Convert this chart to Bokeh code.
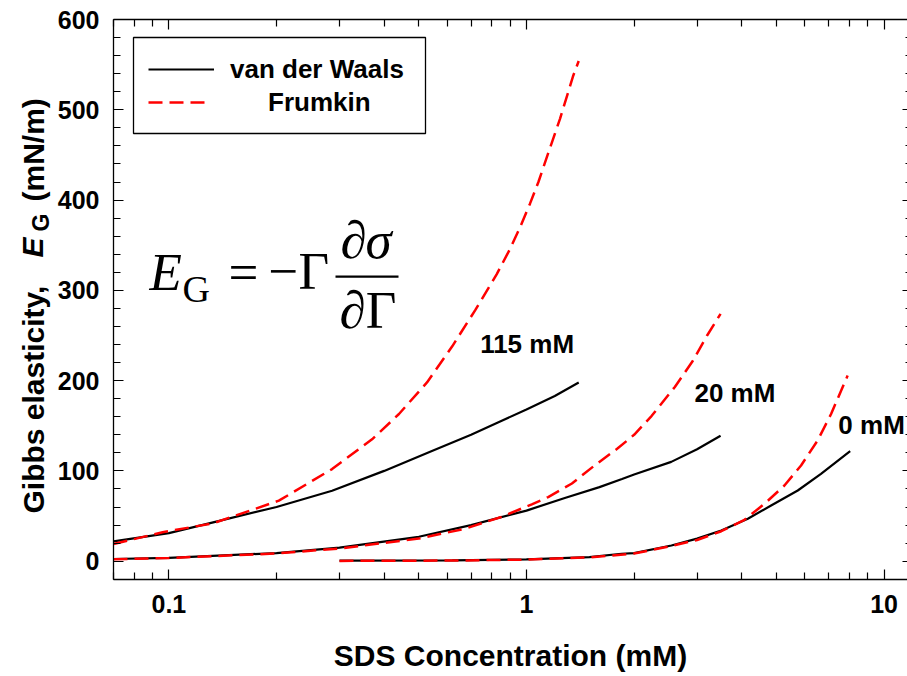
import math
from bokeh.plotting import figure
from bokeh.layouts import row
from bokeh.models import (LogAxis, LinearAxis, FixedTicker, Label, Legend, LegendItem,
                          BoxAnnotation, CustomJSTickFormatter, Range1d)
from bokeh.core.properties import value
from bokeh.embed import file_html
from bokeh.resources import INLINE

# ---------------- data ----------------
# 115 mM NaCl
conc_vdw_115 = [0.07, 0.1, 0.133, 0.2, 0.286, 0.4, 0.544, 0.7, 0.835, 1.0, 1.2, 1.4]
ge_vdw_115 = [22, 31, 43, 60, 78, 100, 122, 140, 154, 168, 183, 198]
conc_fr_115 = [0.07, 0.096, 0.133, 0.203, 0.286, 0.37, 0.44, 0.527, 0.62, 0.66, 0.719,
               0.826, 0.9, 0.96, 1.023, 1.08, 1.139, 1.241, 1.352, 1.4]
ge_fr_115 = [19, 32, 42, 67, 102, 135, 163, 198, 238, 255, 278,
             318, 346, 370, 396, 420, 447, 490, 538, 554]
# 20 mM NaCl
conc_vdw_20 = [0.07, 0.1, 0.2, 0.3, 0.5, 0.7, 1.0, 1.28, 1.6, 1.85, 2.0, 2.54, 3.0, 3.49]
ge_vdw_20 = [2.4, 3.7, 9, 15, 27, 40, 56, 70, 82, 91, 96, 110, 124, 139]
conc_fr_20 = [0.07, 0.1, 0.2, 0.3, 0.5, 0.674, 0.85, 1.035, 1.15, 1.34, 1.55, 1.8, 2.0,
              2.24, 2.6, 2.92, 3.2, 3.49]
ge_fr_20 = [2.2, 3.5, 8.5, 14, 25, 36, 49, 63, 71, 86, 106, 125, 140,
            161, 193, 222, 250, 274]
# 0 mM NaCl
conc_vdw_0 = [0.3, 0.62, 1.0, 1.5, 1.845, 2.0, 2.543, 3.0, 3.506, 4.16, 4.833, 5.737, 6.662, 8.04]
ge_vdw_0 = [0.5, 0.9, 1.9, 4.5, 8.2, 9, 17.4, 25, 34, 47, 61.7, 78.3, 96.8, 121.8]
conc_fr_0 = [0.3, 0.62, 1.0, 1.5, 2.0, 2.543, 3.0, 3.506, 4.07, 4.63, 5.265, 5.86, 6.52, 7.11, 7.91]
ge_fr_0 = [0.3, 0.7, 1.7, 4.2, 8.5, 16.8, 23.5, 33.2, 45.8, 63.5, 83.8, 106, 133.7, 163, 205.6]

curve_labels = ["115 mM", "20 mM", "0 mM"]
curve_label_conc = [0.742, 2.95, 7.45]
curve_label_ge = [241, 186, 151]

series_names = ["van der Waals", "Frumkin"]

x_major_ticks = [0.1, 1, 10]
x_minor_ticks = [0.07, 0.08, 0.09, 0.2, 0.3, 0.4, 0.5, 0.6, 0.7, 0.8, 0.9,
                 2, 3, 4, 5, 6, 7, 8, 9]
x_tick_labels = ["0.1", "1", "10"]
y_major_ticks = [0, 100, 200, 300, 400, 500, 600]
y_minor_ticks = [-20, 20, 40, 60, 80, 120, 140, 160, 180, 220, 240, 260, 280, 320, 340, 360, 380,
                 420, 440, 460, 480, 520, 540, 560, 580]

# ---------------- layout ----------------
W, H = 907, 676          # whole page
SW = 54                  # width of the strip that holds the y-axis title
FL, FT, FR, FB = 111, 19, 907, 579   # frame edges in page pixels
SANS = "Liberation Sans"
SERIF = "Liberation Serif"

p = figure(width=W - SW, height=H, x_axis_type="log",
           x_range=Range1d(0.07, 11.63), y_range=Range1d(-20.3, 600),
           output_backend="svg", toolbar_location=None,
           min_border_left=FL - SW, min_border_right=W - FR, min_border_top=FT,
           min_border_bottom=H - FB)
p.grid.visible = False
p.outline_line_color = None
p.background_fill_color = "white"
p.border_fill_color = "white"

xt = FixedTicker(ticks=x_major_ticks, minor_ticks=x_minor_ticks)
yt = FixedTicker(ticks=y_major_ticks, minor_ticks=y_minor_ticks)


def style_axis(ax, ticker):
    ax.ticker = ticker
    ax.axis_line_color = "black"
    ax.axis_line_width = 1.3
    ax.major_tick_line_color = "black"
    ax.minor_tick_line_color = "black"
    ax.major_tick_line_width = 1.2
    ax.minor_tick_line_width = 1.2
    ax.major_tick_in = 10
    ax.major_tick_out = 0
    ax.minor_tick_in = 7
    ax.minor_tick_out = 0
    ax.major_label_text_font = SANS
    ax.major_label_text_font_style = "bold"
    ax.major_label_text_font_size = "25px"
    ax.major_label_text_color = "black"


xa = p.xaxis[0]
style_axis(xa, xt)
xa.major_label_overrides = {t: s for t, s in zip(x_major_ticks, x_tick_labels)}
xa.major_label_standoff = 15
xa.axis_label = "SDS Concentration (mM)"
xa.axis_label_text_font = SANS
xa.axis_label_text_font_style = "bold"
xa.axis_label_text_font_size = "30px"
xa.axis_label_text_color = "black"
xa.axis_label_standoff = 23

ya = p.yaxis[0]
style_axis(ya, yt)
ya.major_label_standoff = 14

blank = CustomJSTickFormatter(code="return ''")
top = LogAxis()
style_axis(top, xt)
top.formatter = blank
top.major_label_text_font_size = "0px"
top.major_label_standoff = 0
p.add_layout(top, "above")

right = LinearAxis()
style_axis(right, yt)
right.formatter = blank
right.major_label_text_font_size = "0px"
right.major_label_standoff = 0
right.axis_line_color = None
right.major_tick_in = 5
right.minor_tick_in = 2
p.add_layout(right, "right")

# ---------------- curves ----------------
BLACK = dict(line_color="black", line_width=2.2)
RED = dict(line_color="#ff0000", line_width=2.5, line_dash="14 7")

r_vdw = p.line(conc_vdw_115, ge_vdw_115, **BLACK)
p.line(conc_vdw_20, ge_vdw_20, **BLACK)
p.line(conc_vdw_0, ge_vdw_0, **BLACK)
r_fr = p.line(conc_fr_115, ge_fr_115, **RED)
p.line(conc_fr_20, ge_fr_20, **RED)
p.line(conc_fr_0, ge_fr_0, **RED)

p.text(x=curve_label_conc, y=curve_label_ge, text=curve_labels,
       text_font=value(SANS), text_font_style="bold", text_font_size="26px",
       text_color="black", text_align="left", text_baseline="middle")


# ---------------- annotations placed by page pixel position ----------------
MID = 0.35   # distance from baseline to the "middle" anchor, in em


def clabel(text, cx, base_y, size, font=SANS, style="bold", align="left"):
    cy = base_y - MID * size
    lab = Label(x=cx - FL, y=FB - cy, x_units="screen", y_units="screen",
                text=text, text_font=font, text_font_size=f"{size}px",
                text_font_style=style, text_align=align, text_baseline="middle",
                text_color="black")
    p.add_layout(lab)
    return lab


# legend box
p.add_layout(BoxAnnotation(left=131 - FL, right=423 - FL, top=FB - 37, bottom=FB - 133,
                           left_units="screen", right_units="screen",
                           top_units="screen", bottom_units="screen",
                           fill_color="white", fill_alpha=1.0,
                           line_color="black", line_alpha=1.0, line_width=1.3,
                           level="overlay"))

GH = 40
leg1 = Legend(items=[LegendItem(label=series_names[0], renderers=[r_vdw])],
              location=(146 - FL, (FB - 69) - GH / 2), glyph_width=66, glyph_height=GH,
              label_standoff=16, padding=0, margin=0, spacing=0,
              border_line_color=None, background_fill_alpha=0,
              label_text_font=SANS, label_text_font_style="bold",
              label_text_font_size="26px", label_text_color="black")
leg2 = Legend(items=[LegendItem(label=series_names[1], renderers=[r_fr])],
              location=(146 - FL, (FB - 102) - GH / 2), glyph_width=60, glyph_height=GH,
              label_standoff=60, padding=0, margin=0, spacing=0,
              border_line_color=None, background_fill_alpha=0,
              label_text_font=SANS, label_text_font_style="bold",
              label_text_font_size="26px", label_text_color="black")
p.add_layout(leg1, "center")
p.add_layout(leg2, "center")

# formula  E_G = -Γ ∂σ/∂Γ   (x = left edge, y = baseline, page pixels)
clabel("E", 147, 290, 53, font=SERIF, style="italic")
clabel("G", 180, 302, 38, font=SERIF, style="normal")
clabel("=", 226, 290, 53, font=SERIF, style="normal")
clabel("\u2212\u0393", 266, 289, 53, font=SERIF, style="normal")
clabel("\u2202", 338, 258, 53, font=SERIF, style="normal")
clabel("\u03c3", 363, 258, 53, font=SERIF, style="italic")
clabel("\u2202\u0393", 337, 328, 53, font=SERIF, style="normal")
p.add_layout(BoxAnnotation(left=333 - FL, right=396 - FL, top=FB - 275, bottom=FB - 277.3,
                           left_units="screen", right_units="screen",
                           top_units="screen", bottom_units="screen",
                           fill_color="black", fill_alpha=1.0, line_color=None))

# ---------------- y-axis title strip (left of the main figure) ----------------
# its frame is aligned with the main frame (rows 19..579), data y = page pixels from bottom
q = figure(width=SW, height=H, x_range=Range1d(0, SW), y_range=Range1d(H - FB, H - FT),
           x_axis_location=None, y_axis_location=None,
           output_backend="svg", toolbar_location=None,
           min_border_left=0, min_border_right=0, min_border_top=FT,
           min_border_bottom=H - FB)
q.grid.visible = False
q.outline_line_color = None
q.background_fill_color = "white"
q.border_fill_color = "white"


def ylabel_part(text, base_x, start_y, size, style="bold"):
    q.add_layout(Label(x=base_x - MID * size, y=H - start_y, x_units="data", y_units="data",
                       text=text, text_font=SANS, text_font_size=f"{size}px",
                       text_font_style=style, text_align="left", text_baseline="middle",
                       angle=math.pi / 2, text_color="black"))


ylabel_part("Gibbs elasticity,", 43, 513, 30)
ylabel_part("E", 42.5, 257, 30, style="bold italic")
ylabel_part("G", 49, 231, 23)
ylabel_part("(mN/m)", 43, 201, 30)

layout = row(q, p, spacing=0)
open("out.html", "w").write(file_html(layout, INLINE))
